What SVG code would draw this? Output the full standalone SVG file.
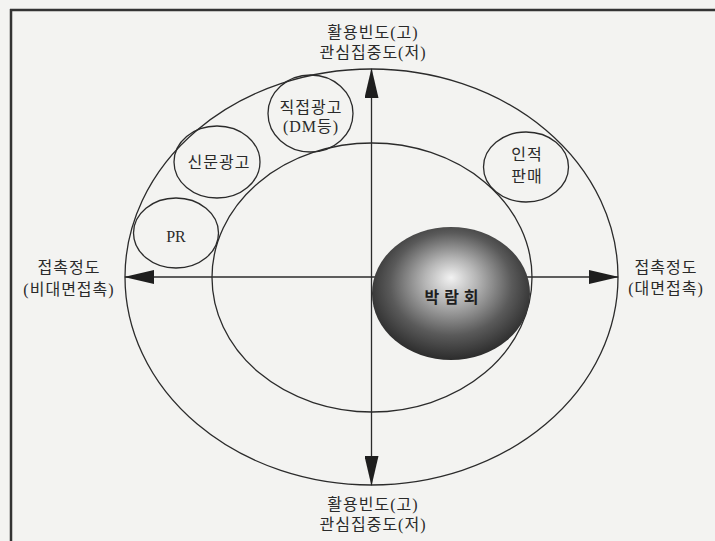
<svg xmlns="http://www.w3.org/2000/svg" width="715" height="541" viewBox="0 0 715 541">
<style>
.ln{fill:none;stroke:#2b2b2b;stroke-width:1.3}
.node{fill:none;stroke:#2b2b2b;stroke-width:1.3}
.t{font-family:"Liberation Serif","Noto Sans CJK KR",serif;font-size:16px;fill:#2a2a2a;text-anchor:middle;letter-spacing:1px}
.pr{letter-spacing:0}
.b{font-family:"Noto Sans CJK KR","Noto Sans",sans-serif;font-size:16px;font-weight:bold;fill:#1e1e1e;text-anchor:middle;letter-spacing:5px}
</style>
<defs>
<marker id="ah" markerUnits="userSpaceOnUse" markerWidth="30" markerHeight="14" refX="29" refY="7" orient="auto" viewBox="0 0 30 14">
<path d="M0,0 L30,7 L0,14 z" fill="#1e1e1e"/>
</marker>
<radialGradient id="g" cx="50%" cy="45%" r="55%" fx="50%" fy="38%">
<stop offset="0%" stop-color="#f2f2f2"/>
<stop offset="30%" stop-color="#b5b5b5"/>
<stop offset="70%" stop-color="#5a5a5a"/>
<stop offset="100%" stop-color="#2c2c2c"/>
</radialGradient>
</defs>
<rect x="0" y="0" width="715" height="541" fill="#f3f3f1"/>
<g id="frame">
<line x1="10" y1="10" x2="715" y2="10" stroke="#333" stroke-width="2.5"/>
<line x1="11" y1="9" x2="11" y2="541" stroke="#333" stroke-width="2.5"/>
</g>
<g id="outer-ellipse"><ellipse class="ln" cx="371.5" cy="277" rx="246.5" ry="208"/></g>
<g id="inner-ellipse"><ellipse class="ln" cx="372" cy="277.5" rx="160" ry="134.5"/></g>
<g id="connectors">
<line class="ln" x1="371.5" y1="277" x2="371.5" y2="69" marker-end="url(#ah)"/>
<line class="ln" x1="371.5" y1="277" x2="371.5" y2="485" marker-end="url(#ah)"/>
<line class="ln" x1="371.5" y1="277" x2="125" y2="277" marker-end="url(#ah)"/>
<line class="ln" x1="371.5" y1="277" x2="618" y2="277" marker-end="url(#ah)"/>
</g>
<g id="expo">
<ellipse cx="451" cy="293.5" rx="79" ry="66.5" fill="url(#g)"/>
<text class="b" x="454" y="303">박람회</text>
</g>
<g id="dm">
<ellipse class="node" cx="310.5" cy="113.5" rx="42.5" ry="38.5"/>
<text class="t" x="311" y="113">직접광고</text>
<text class="t" x="311" y="132">(DM등)</text>
</g>
<g id="newspaper">
<ellipse class="node" cx="217" cy="162" rx="43" ry="36"/>
<text class="t" x="219" y="168">신문광고</text>
</g>
<g id="pr">
<ellipse class="node" cx="176" cy="233" rx="42.5" ry="35"/>
<text class="t pr" x="176" y="242">PR</text>
</g>
<g id="personal">
<ellipse class="node" cx="526" cy="167" rx="42.5" ry="35"/>
<text class="t" x="527" y="160">인적</text>
<text class="t" x="527" y="182">판매</text>
</g>
<g id="label-top">
<text class="t" x="373" y="38">활용빈도(고)</text>
<text class="t" x="373" y="58">관심집중도(저)</text>
</g>
<g id="label-bottom">
<text class="t" x="373" y="510">활용빈도(고)</text>
<text class="t" x="373" y="530">관심집중도(저)</text>
</g>
<g id="label-left">
<text class="t" x="69" y="273">접촉정도</text>
<text class="t" x="69" y="295">(비대면접촉)</text>
</g>
<g id="label-right">
<text class="t" x="666" y="273">접촉정도</text>
<text class="t" x="666" y="294">(대면접촉)</text>
</g>
</svg>
